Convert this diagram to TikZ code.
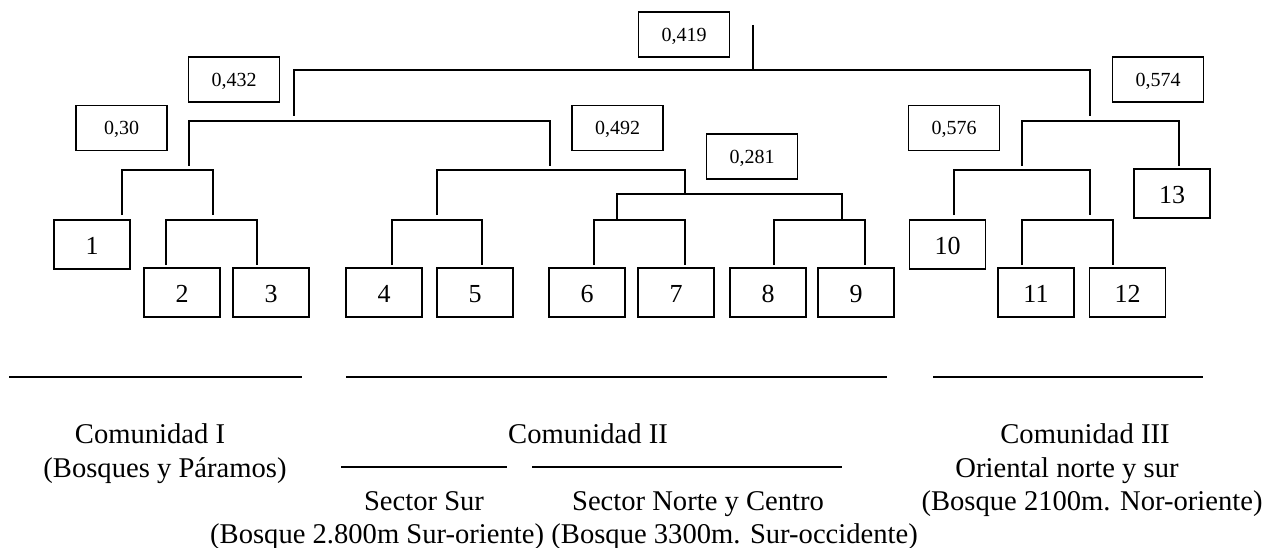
\documentclass[tikz,border=0pt]{standalone}
\usepackage{fontspec}
\setmainfont{Liberation Serif}
\def\brk#1#2#3{\draw[branch] (#1) -- (#2) -| (#3);}
\tikzset{
  numbox/.style={draw, line width=1.6pt, minimum width=76pt, minimum height=49pt, inner sep=0pt,
    text height=20pt, text depth=0pt, font=\fontsize{26}{28}\selectfont},
  valbox/.style={draw, line width=1.6pt, minimum width=91pt, minimum height=45pt, inner sep=0pt,
    text height=13.5pt, text depth=0pt, font=\fontsize{20}{22}\selectfont},
  branch/.style={line width=2pt},
  caption/.style={anchor=base, inner sep=0pt, font=\fontsize{28.6}{33}\selectfont},
  rule/.style={line width=2.4pt}
}

\begin{document}
\begin{tikzpicture}[x=1pt,y=-1pt]
\useasboundingbox (0,0) rectangle (1276,548);

% leaves
\foreach \n/\x/\y in {1/92/244.5, 2/182/292.5, 3/271/292.5, 4/384/292.5, 5/475/292.5,
    6/587/292.5, 7/676/292.5, 8/768/292.5, 9/856/292.5, 10/947.5/244.5,
    11/1036/292.5, 12/1127.5/292.5, 13/1172/193.5}
  \node[numbox] (b\n) at (\x,\y) {\n};

% distances
\node[valbox] (v419) at (684,34.5) {0,419};
\node[valbox] (v432) at (234,79.5) {0,432};
\node[valbox] (v574) at (1158,79.5) {0,574};
\node[valbox] (v30) at (121.5,128) {0,30};
\node[valbox] (v492) at (617.5,128) {0,492};
\node[valbox] (v576) at (954,128) {0,576};
\node[valbox] (v281) at (752,156.5) {0,281};

% joints: name / left x / right x / top y / left foot y / right foot y
\foreach \n/\l/\r/\t/\bl/\br in {root/294/1090/70/116/116, a/189/550/121/166/166,
    c/122/213/170/215/215, d/166/257/220/265/265, e/437/685/170/215/194,
    f/392/482/220/265/265, g/617/842/194/220/220, h/594/685/220/265/265,
    i/774/865/220/265/265, j/1022/1179/121/166/166, k/954/1090/170/215/215,
    l/1022/1113/220/265/265}
{
  \coordinate (\n T) at (\l,\t);
  \coordinate (\n L) at (\l,\bl);
  \coordinate (\n R) at (\r,\br);
  \brk{\n L}{\n T}{\n R}
}
\coordinate (stem) at (753,25);
\coordinate (stemT) at (753,70);
\draw[branch] (stem) -- (stemT);

% communities
\draw[rule] (9,377) -- (302,377);
\draw[rule] (346,377) -- (887,377);
\draw[rule] (933,377) -- (1203,377);
\draw[rule] (341,467) -- (507,467);
\draw[rule] (532,467) -- (842,467);

\node[caption] (c1) at (150,443) {Comunidad I};
\node[caption] (c1b) at (165,477) {(Bosques y Páramos)};
\node[caption] (c2) at (588,443) {Comunidad II};
\node[caption] (s1) at (424,510) {Sector Sur};
\node[caption, anchor=base west] (s1b) at (210,543) {(Bosque 2.800m Sur-oriente)};
\node[caption] (s2) at (698,510) {Sector Norte y Centro};
\node[caption, anchor=base west] (s2b) at ([xshift=7pt]s1b.base east) {(Bosque 3300m. Sur-occidente)};
\node[caption] (c3) at (1085,443) {Comunidad III};
\node[caption] (c3b) at (1067,477) {Oriental norte y sur};
\node[caption] (c3c) at (1092,510) {(Bosque 2100m. Nor-oriente)};
\end{tikzpicture}
\end{document}
